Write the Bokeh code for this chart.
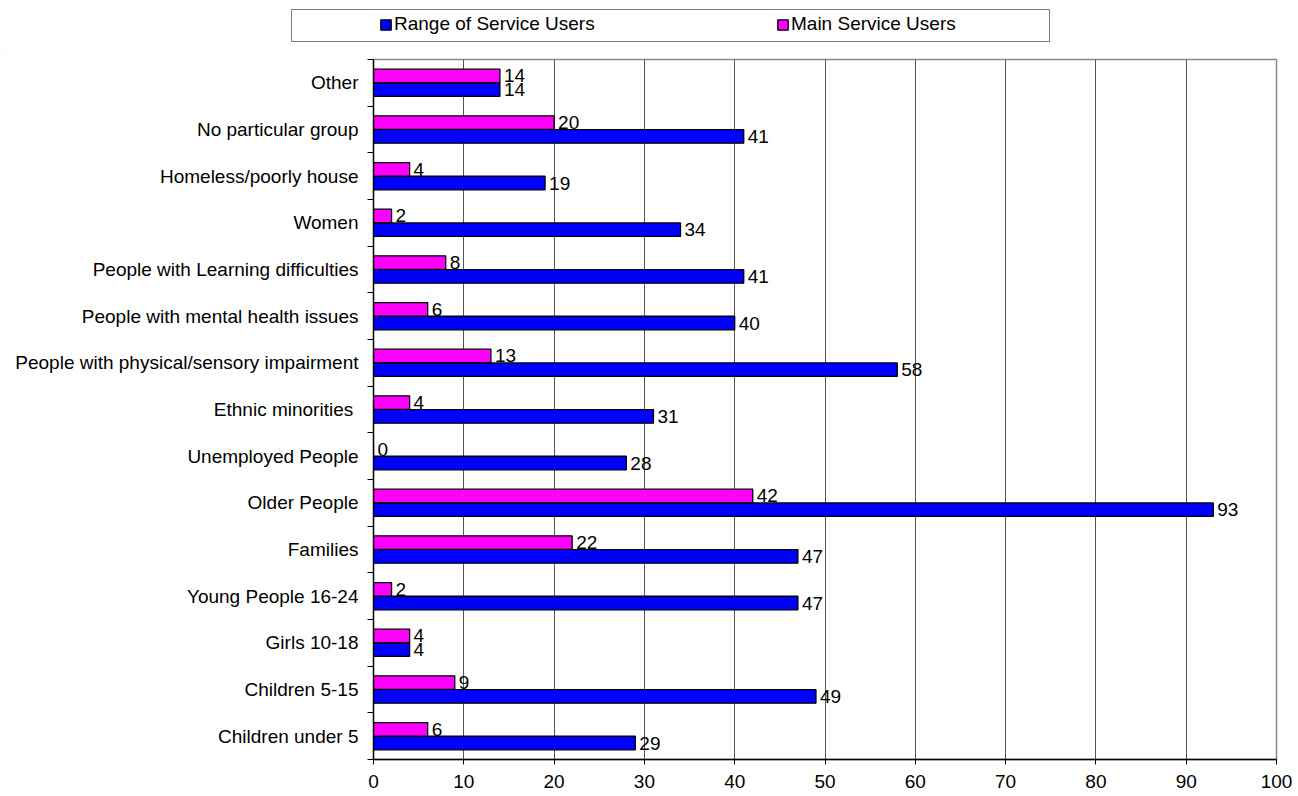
from bokeh.plotting import figure
from bokeh.layouts import column
from bokeh.models import Range1d, FixedTicker, Legend, LegendItem, ColumnDataSource
from bokeh.core.properties import value
from bokeh.embed import file_html
from bokeh.resources import INLINE

categories = ["Other", "No particular group", "Homeless/poorly house", "Women",
              "People with Learning difficulties", "People with mental health issues",
              "People with physical/sensory impairment", "Ethnic minorities ",
              "Unemployed People", "Older People", "Families", "Young People 16-24",
              "Girls 10-18", "Children 5-15", "Children under 5"]
range_users = [14, 41, 19, 34, 41, 40, 58, 31, 28, 93, 47, 47, 4, 49, 29]
main_users = [14, 20, 4, 2, 8, 6, 13, 4, 0, 42, 22, 2, 4, 9, 6]
x_ticks = [0, 10, 20, 30, 40, 50, 60, 70, 80, 90, 100]
series_names = ["Range of Service Users", "Main Service Users"]
series_colors = ["#0000FF", "#FF00FF"]

FONT = "Liberation Sans"
n = len(categories)
centers = [n - i - 0.5 for i in range(n)]
bar_h = 0.29
off = 0.147

W = 1298
LEG_H = 50
MAIN_H = 796 - LEG_H

src_range = ColumnDataSource(dict(y=[c - off for c in centers], v=range_users,
                                  t=[str(v) for v in range_users]))
src_main = ColumnDataSource(dict(y=[c + off for c in centers], v=main_users,
                                 t=[str(v) for v in main_users]))

# ---------------- main chart ----------------
p = figure(width=W, height=MAIN_H, output_backend="svg", toolbar_location=None,
           x_range=Range1d(0, 100), y_range=Range1d(0, n),
           min_border_left=373, min_border_right=22, min_border_top=9, min_border_bottom=37)
p.background_fill_color = "white"
p.border_fill_color = "white"
p.outline_line_color = "#888888"
p.outline_line_width = 1.5

p.hbar(y="y", left=0, right="v", height=bar_h, source=src_range,
       fill_color=series_colors[0], line_color="black", line_width=1.3)
p.hbar(y="y", left=0, right="v", height=bar_h, source=src_main,
       fill_color=series_colors[1], line_color="black", line_width=1.3)

for src in (src_range, src_main):
    p.text(x="v", y="y", text="t", source=src, x_offset=4, text_align="left",
           text_baseline="middle", text_font=value(FONT), text_font_size="19px",
           text_color="black")

p.xaxis.ticker = FixedTicker(ticks=x_ticks)
p.xaxis.axis_line_color = "black"
p.xaxis.axis_line_width = 1.3
p.xaxis.major_tick_out = 5
p.xaxis.major_tick_in = 0
p.xaxis.minor_tick_line_color = None
p.xaxis.major_label_standoff = 10
p.xaxis.major_label_text_font = FONT
p.xaxis.major_label_text_font_size = "19px"
p.xaxis.major_label_text_color = "black"

p.xgrid.ticker = FixedTicker(ticks=x_ticks)
p.xgrid.grid_line_color = "#555555"
p.xgrid.grid_line_width = 1
p.ygrid.visible = False

p.yaxis.ticker = FixedTicker(ticks=centers, minor_ticks=list(range(n + 1)))
p.yaxis.major_label_overrides = {c: lab for c, lab in zip(centers, categories)}
p.yaxis.major_tick_out = 0
p.yaxis.major_tick_in = 0
p.yaxis.minor_tick_out = 6
p.yaxis.minor_tick_in = 0
p.yaxis.minor_tick_line_color = "black"
p.yaxis.axis_line_color = "black"
p.yaxis.axis_line_width = 1.3
p.yaxis.major_label_standoff = 9
p.yaxis.major_label_text_font = FONT
p.yaxis.major_label_text_font_size = "19px"
p.yaxis.major_label_text_color = "black"

# ---------------- legend strip ----------------
lg = figure(width=W, height=LEG_H, output_backend="svg", toolbar_location=None,
            x_range=Range1d(0, W), y_range=Range1d(0, LEG_H),
            x_axis_location=None, y_axis_location=None,
            min_border=0, min_border_left=0, min_border_right=0,
            min_border_top=0, min_border_bottom=0)
lg.outline_line_color = None
lg.border_fill_color = "white"
lg.background_fill_color = "white"
lg.xgrid.visible = False
lg.ygrid.visible = False
for fig in (lg, p):
    try:
        fig.frame_align = False
    except Exception:
        pass

k_range = lg.hbar(y=[-1000], left=-5000, right=[-4000], height=1,
                  fill_color=series_colors[0], line_color="black", line_width=1.3)
k_main = lg.hbar(y=[-1000], left=-5000, right=[-4000], height=1,
                 fill_color=series_colors[1], line_color="black", line_width=1.3)
ghost = lg.hbar(y=[-1000], left=-5000, right=[-4000], height=1, fill_alpha=0, line_alpha=0)

box_legend = Legend(items=[LegendItem(label=" ", renderers=[ghost])],
                    location=(291, LEG_H - 42), orientation="horizontal",
                    padding=0, margin=0, spacing=0, glyph_width=1, glyph_height=31,
                    label_width=756, label_height=31, label_standoff=0,
                    label_text_font_size="2px",
                    border_line_color="black", border_line_width=1.5,
                    background_fill_color="white", background_fill_alpha=1)
lg.add_layout(box_legend, "center")

item_legend = Legend(items=[LegendItem(label=series_names[0], renderers=[k_range]),
                            LegendItem(label=series_names[1], renderers=[k_main])],
                     location=(379, LEG_H - 35), orientation="horizontal",
                     padding=0, margin=0, spacing=0, glyph_width=13, glyph_height=13,
                     label_width=382, label_height=13, label_standoff=2,
                     label_text_font=FONT, label_text_font_size="19px",
                     label_text_color="black",
                     border_line_alpha=0, background_fill_alpha=0)
lg.add_layout(item_legend, "center")

layout = column(lg, p, spacing=0)
open("out.html", "w").write(file_html(layout, INLINE))
